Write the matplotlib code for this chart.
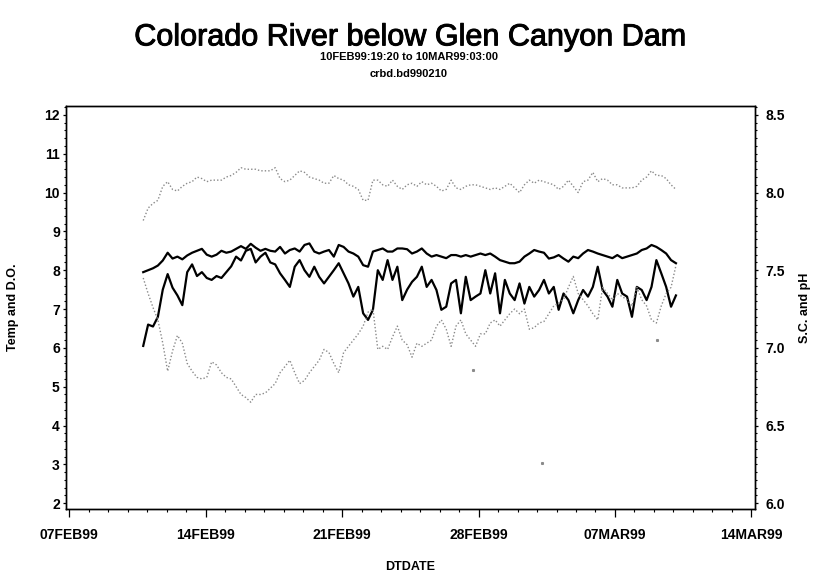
import pandas as pd
import matplotlib
matplotlib.use('Agg')
import matplotlib.pyplot as plt
import matplotlib.patheffects as pe
from matplotlib.ticker import MultipleLocator
import matplotlib.dates as mdates

plt.rcParams['font.family'] = ['Liberation Sans', 'DejaVu Sans']

# sample times (every ~6 hours over the record)
times = pd.date_range('1999-02-10 19:20', '1999-03-10 03:00', periods=110)

# left axis: temperature and dissolved oxygen
temp = [7.95, 8.00, 8.05, 8.12, 8.25, 8.45, 8.30, 8.35, 8.28, 8.38, 8.45, 8.50, 8.55, 8.40,
        8.35, 8.40, 8.50, 8.45, 8.48, 8.55, 8.62, 8.55, 8.68, 8.58, 8.50, 8.55, 8.50,
        8.48, 8.60, 8.43, 8.52, 8.56, 8.48, 8.65, 8.69, 8.48, 8.43, 8.48, 8.52, 8.35, 8.65,
        8.60, 8.48, 8.43, 8.35, 8.13, 8.09, 8.48, 8.52, 8.56, 8.48, 8.48, 8.56, 8.56, 8.54,
        8.43, 8.48, 8.56, 8.43, 8.35, 8.39, 8.35, 8.31, 8.39, 8.39, 8.35, 8.39, 8.35, 8.39,
        8.43, 8.39, 8.43, 8.35, 8.26, 8.22, 8.18, 8.18, 8.22, 8.35, 8.43, 8.52, 8.48, 8.45,
        8.30, 8.33, 8.39, 8.30, 8.22, 8.35, 8.31, 8.43, 8.52, 8.48, 8.43, 8.39, 8.35, 8.31,
        8.39, 8.31, 8.35, 8.39, 8.43, 8.52, 8.56, 8.65, 8.60, 8.52, 8.43, 8.26, 8.18]

do = [6.05, 6.60, 6.55, 6.80, 7.50, 7.90, 7.55, 7.35, 7.10, 7.95, 8.15, 7.85, 7.95, 7.80,
      7.75, 7.85, 7.80, 7.95, 8.10, 8.35, 8.25, 8.50, 8.55, 8.20, 8.35, 8.45, 8.20,
      8.15, 7.92, 7.75, 7.57, 8.09, 8.26, 8.00, 7.83, 8.09, 7.83, 7.66, 7.83, 8.00, 8.18,
      7.92, 7.66, 7.32, 7.57, 6.89, 6.72, 6.98, 8.00, 7.75, 8.26, 7.75, 8.09, 7.23, 7.50,
      7.70, 7.83, 8.09, 7.57, 7.75, 7.49, 6.98, 7.06, 7.66, 7.75, 6.89, 7.83, 7.23, 7.32,
      7.40, 8.00, 7.40, 7.92, 6.89, 7.75, 7.40, 7.23, 7.66, 7.14, 7.57, 7.32, 7.49, 7.75,
      7.40, 7.57, 6.98, 7.40, 7.23, 6.89, 7.23, 7.49, 7.32, 7.57, 8.09, 7.49, 7.32, 7.06,
      7.75, 7.40, 7.32, 6.80, 7.57, 7.49, 7.23, 7.57, 8.26, 7.92, 7.57, 7.06, 7.35]

# right axis: pH and specific conductance
ph = [7.82, 7.90, 7.93, 7.95, 8.04, 8.07, 8.02, 8.01, 8.04, 8.06, 8.07, 8.10, 8.09, 8.07,
      8.08, 8.08, 8.08, 8.10, 8.11, 8.13, 8.16, 8.15, 8.15, 8.15, 8.14, 8.14, 8.14,
      8.16, 8.09, 8.07, 8.08, 8.11, 8.14, 8.13, 8.10, 8.09, 8.08, 8.06, 8.06, 8.11, 8.09,
      8.08, 8.05, 8.04, 8.02, 7.95, 7.95, 8.08, 8.08, 8.05, 8.04, 8.08, 8.04, 8.02, 8.05,
      8.06, 8.04, 8.07, 8.05, 8.06, 8.04, 8.01, 8.02, 8.08, 8.03, 8.02, 8.04, 8.05, 8.05,
      8.04, 8.03, 8.02, 8.03, 8.02, 8.04, 8.06, 8.03, 8.00, 8.05, 8.08, 8.06, 8.08, 8.07,
      8.06, 8.05, 8.02, 8.04, 8.08, 8.04, 8.00, 8.07, 8.08, 8.13, 8.07, 8.09, 8.08, 8.05,
      8.05, 8.03, 8.03, 8.03, 8.04, 8.08, 8.10, 8.14, 8.11, 8.11, 8.09, 8.05, 8.02]

sc = [7.45, 7.35, 7.26, 7.18, 7.03, 6.85, 6.98, 7.08, 7.03, 6.90, 6.85, 6.81, 6.80, 6.81,
      6.91, 6.89, 6.84, 6.81, 6.80, 6.75, 6.70, 6.68, 6.65, 6.70, 6.70, 6.71, 6.74,
      6.77, 6.84, 6.88, 6.92, 6.84, 6.77, 6.79, 6.84, 6.88, 6.92, 6.99, 6.97, 6.90, 6.84,
      6.97, 7.01, 7.05, 7.09, 7.14, 7.23, 7.25, 6.99, 7.01, 6.99, 7.07, 7.14, 7.05, 7.02,
      6.94, 7.03, 7.01, 7.03, 7.05, 7.14, 7.18, 7.12, 7.01, 7.14, 7.18, 7.09, 7.05, 7.01,
      7.09, 7.09, 7.16, 7.18, 7.14, 7.18, 7.22, 7.25, 7.22, 7.25, 7.12, 7.13, 7.16, 7.17,
      7.22, 7.27, 7.29, 7.31, 7.39, 7.46, 7.35, 7.31, 7.27, 7.22, 7.18, 7.39, 7.35, 7.31,
      7.35, 7.33, 7.31, 7.27, 7.39, 7.31, 7.27, 7.18, 7.16, 7.27, 7.35, 7.39, 7.53]

# isolated readings
sc_stray_times = pd.to_datetime(['1999-02-27 17:15', '1999-03-03 06:00', '1999-03-09 03:20'])
sc_stray = [6.86, 6.26, 7.05]

x_tick_dates = pd.to_datetime(['1999-02-07', '1999-02-14', '1999-02-21',
                               '1999-02-28', '1999-03-07', '1999-03-14'])
x_tick_labels = ['07FEB99', '14FEB99', '21FEB99', '28FEB99', '07MAR99', '14MAR99']
left_ticks = [2, 3, 4, 5, 6, 7, 8, 9, 10, 11, 12]
right_ticks = [6.0, 6.5, 7.0, 7.5, 8.0, 8.5]

fig = plt.figure(figsize=(8.18, 5.75), dpi=100)
ax = fig.add_axes([0.0807, 0.1148, 0.8423, 0.7009])
ax2 = ax.twinx()

dotted = dict(color='#8a8a8a', linestyle=(0, (1, 1.5)), linewidth=1.0)
ax2.plot(times, ph, **dotted)
ax2.plot(times, sc, **dotted)
ax2.plot(sc_stray_times, sc_stray, 's', color='#8a8a8a', markersize=1.2)
ax.plot(times, temp, color='black', linewidth=1.6)
ax.plot(times, do, color='black', linewidth=1.6)

ax.set_xlim(pd.Timestamp('1999-02-06 20:18'), pd.Timestamp('1999-03-14 04:20'))
ax.set_ylim(1.85, 12.23)
ax2.set_ylim(5.9625, 8.5575)

ax.set_xticks(x_tick_dates)
ax.set_xticklabels(x_tick_labels)
ax.xaxis.set_minor_locator(mdates.DayLocator())
ax.set_yticks(left_ticks)
ax.set_yticklabels([str(v) for v in left_ticks])
ax.yaxis.set_minor_locator(MultipleLocator(0.2))
ax2.set_yticks(right_ticks)
ax2.set_yticklabels(['%.1f' % v for v in right_ticks])
ax2.yaxis.set_minor_locator(MultipleLocator(0.05))

for a in (ax, ax2):
    a.tick_params(which='major', direction='out', length=2.5, width=0.9, labelsize=10)
    a.tick_params(which='minor', direction='out', length=1.5, width=0.8)
    for lab in a.get_xticklabels() + a.get_yticklabels():
        lab.set_fontweight('bold')
    for s in a.spines.values():
        s.set_linewidth(1.0)
ax.tick_params(axis='x', which='major', length=6, pad=8)
ax.tick_params(axis='x', which='minor', length=2.5)
ax.tick_params(axis='y', which='major', pad=2)
ax2.tick_params(axis='y', which='major', pad=5)

ax.set_xlabel('DTDATE', fontsize=9, fontweight='bold')
ax.xaxis.set_label_coords(0.499, -0.128)
ax.set_ylabel('Temp and D.O.', fontsize=9, fontweight='bold')
ax.yaxis.set_label_coords(-0.068, 0.5)
ax2.set_ylabel('S.C. and pH', fontsize=9, fontweight='bold', rotation=90)
ax2.yaxis.set_label_coords(1.064, 0.5)

title = fig.text(0.5, 0.935, 'Colorado River below Glen Canyon Dam', ha='center', va='center',
                 fontsize=22)
title.set_path_effects([pe.withStroke(linewidth=0.7, foreground='black')])
fig.text(0.5, 0.901, '10FEB99:19:20 to 10MAR99:03:00', ha='center', va='center',
         fontsize=8, fontweight='bold')
fig.text(0.5, 0.871, 'crbd.bd990210', ha='center', va='center', fontsize=8, fontweight='bold')

fig.savefig('out.png', dpi=100)
